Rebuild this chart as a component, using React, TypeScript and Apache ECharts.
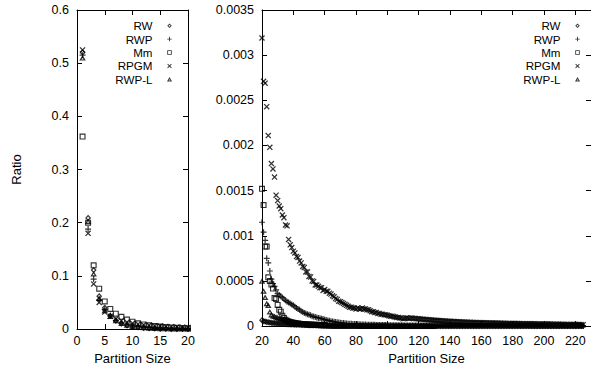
import React, { useEffect, useRef } from 'react';
import * as echarts from 'echarts';

const FONT = 'Liberation Sans, Arial, Helvetica, sans-serif';

const seriesNames = ['RW', 'RWP', 'Mm', 'RPGM', 'RWP-L'];

// Left panel: partition sizes 1..20
const leftSizes = [1, 2, 3, 4, 5, 6, 7, 8, 9, 10, 11, 12, 13, 14, 15, 16, 17, 18, 19, 20];
const leftRW = [0.52, 0.209, 0.111, 0.062, 0.04, 0.025, 0.016, 0.0105, 0.007, 0.0048, 0.0033, 0.0023, 0.0016, 0.0011, 0.0008, 0.0005, 0.00035, 0.00025, 0.00015, 0.000065];
const leftRWP = [0.515, 0.188, 0.094, 0.055, 0.037, 0.025, 0.016, 0.011, 0.0078, 0.0058, 0.0045, 0.0036, 0.003, 0.0025, 0.0021, 0.0018, 0.0015, 0.0013, 0.0012, 0.00115];
const leftMm = [0.362, 0.2, 0.12, 0.076, 0.052, 0.038, 0.029, 0.023, 0.018, 0.014, 0.011, 0.0088, 0.0071, 0.0058, 0.0047, 0.0038, 0.0031, 0.0025, 0.002, 0.0015];
const leftRPGM = [0.525, 0.18, 0.085, 0.05, 0.032, 0.024, 0.019, 0.016, 0.013, 0.011, 0.0095, 0.0082, 0.0072, 0.0063, 0.0056, 0.005, 0.0045, 0.004, 0.0036, 0.0032];
const leftRWPL = [0.51, 0.203, 0.104, 0.058, 0.035, 0.024, 0.016, 0.011, 0.0075, 0.0053, 0.0038, 0.0028, 0.0021, 0.0016, 0.0012, 0.001, 0.0008, 0.0007, 0.0006, 0.0005];

// Right panel: consecutive partition sizes starting at 20
const RIGHT_START = 20;
const rightRW = [
  65e-6, 55e-6, 50e-6, 46e-6, 43e-6, 40e-6, 37e-6, 35e-6, 33e-6, 31e-6,
  30e-6, 28e-6, 27e-6, 25e-6, 24e-6, 22e-6, 21e-6, 20e-6, 19e-6, 18e-6,
  17e-6, 16e-6, 15e-6, 14.5e-6, 14e-6, 13e-6, 12.5e-6, 12e-6, 11.5e-6, 11e-6,
  10e-6, 9.6e-6, 9.2e-6, 8.8e-6, 8.4e-6, 8e-6, 7.7e-6, 7.4e-6, 7.1e-6, 6.8e-6,
  6.5e-6, 6.2e-6, 6e-6, 5.8e-6, 5.6e-6, 5.4e-6, 5.2e-6, 5e-6, 4.9e-6, 4.8e-6,
  4.6e-6, 4.5e-6, 4.4e-6, 4.2e-6, 4.1e-6, 4e-6, 3.9e-6, 3.8e-6, 3.7e-6, 3.6e-6,
  3.5e-6, 3.4e-6, 3.4e-6, 3.3e-6, 3.2e-6, 3.2e-6, 3.1e-6, 3e-6, 3e-6, 2.9e-6,
  2.9e-6, 2.8e-6, 2.8e-6, 2.7e-6, 2.7e-6, 2.6e-6, 2.6e-6, 2.5e-6, 2.5e-6, 2.5e-6,
  2.4e-6, 2.4e-6, 2.3e-6, 2.3e-6, 2.3e-6, 2.2e-6, 2.2e-6, 2.2e-6, 2.1e-6, 2.1e-6,
  2.1e-6, 2e-6, 2e-6, 2e-6, 2e-6, 1.9e-6, 1.9e-6, 1.9e-6, 1.9e-6, 1.8e-6,
  1.8e-6, 1.8e-6, 1.8e-6, 1.7e-6, 1.7e-6, 1.7e-6, 1.7e-6, 1.7e-6, 1.6e-6, 1.6e-6,
  1.6e-6, 1.6e-6, 1.6e-6, 1.5e-6, 1.5e-6, 1.5e-6, 1.5e-6, 1.5e-6, 1.5e-6, 1.4e-6,
  1.4e-6, 1.4e-6, 1.4e-6, 1.4e-6, 1.4e-6, 1.3e-6, 1.3e-6, 1.3e-6, 1.3e-6, 1.3e-6,
  1.3e-6, 1.3e-6, 1.2e-6, 1.2e-6, 1.2e-6, 1.2e-6, 1.2e-6, 1.2e-6, 1.2e-6, 1.2e-6,
  1.1e-6, 1.1e-6, 1.1e-6, 1.1e-6, 1.1e-6, 1.1e-6, 1.1e-6, 1.1e-6, 1.1e-6, 1e-6,
  1e-6, 1e-6, 1e-6, 1e-6, 1e-6, 1e-6, 1e-6, 1e-6, 0.98e-6, 0.98e-6,
  0.97e-6, 0.96e-6, 0.95e-6, 0.95e-6, 0.94e-6, 0.93e-6, 0.93e-6, 0.92e-6, 0.91e-6, 0.91e-6,
  0.9e-6, 0.9e-6, 0.89e-6, 0.88e-6, 0.88e-6, 0.87e-6, 0.87e-6, 0.86e-6, 0.86e-6, 0.85e-6,
  0.85e-6, 0.84e-6, 0.84e-6, 0.83e-6, 0.83e-6, 0.82e-6, 0.82e-6, 0.81e-6, 0.81e-6, 0.8e-6,
  0.8e-6, 0.8e-6, 0.79e-6, 0.79e-6, 0.78e-6, 0.78e-6, 0.78e-6, 0.77e-6, 0.77e-6, 0.76e-6,
  0.76e-6, 0.76e-6, 0.75e-6, 0.75e-6, 0.75e-6, 0.74e-6,
];
const rightRWP = [
  1150e-6, 1040e-6, 950e-6, 750e-6, 700e-6, 610e-6, 520e-6, 470e-6, 440e-6, 400e-6,
  360e-6, 345e-6, 330e-6, 315e-6, 300e-6, 285e-6, 270e-6, 260e-6, 250e-6, 240e-6,
  230e-6, 215e-6, 200e-6, 190e-6, 180e-6, 165e-6, 155e-6, 145e-6, 140e-6, 130e-6,
  125e-6, 120e-6, 110e-6, 105e-6, 100e-6, 95e-6, 90e-6, 88e-6, 82e-6, 78e-6,
  72e-6, 68e-6, 63e-6, 60e-6, 55e-6, 52e-6, 48e-6, 45e-6, 42e-6, 40e-6,
  37e-6, 35e-6, 33e-6, 31e-6, 29e-6, 27e-6, 26e-6, 25e-6, 24e-6, 23e-6,
  22e-6, 21e-6, 20e-6, 19e-6, 18e-6, 18e-6, 17e-6, 16e-6, 16e-6, 15e-6,
  15e-6, 14e-6, 14e-6, 13e-6, 13e-6, 12e-6, 12e-6, 12e-6, 11e-6, 11e-6,
  11e-6, 10e-6, 10e-6, 10e-6, 9.5e-6, 9.5e-6, 9e-6, 9e-6, 9e-6, 8.5e-6,
  8.5e-6, 8e-6, 8e-6, 8e-6, 7.8e-6, 7.5e-6, 7.5e-6, 7.2e-6, 7e-6, 7e-6,
  6.8e-6, 6.7e-6, 6.5e-6, 6.4e-6, 6.2e-6, 6e-6, 6e-6, 5.8e-6, 5.7e-6, 5.6e-6,
  5.5e-6, 5.4e-6, 5.3e-6, 5.2e-6, 5.1e-6, 5e-6, 4.9e-6, 4.8e-6, 4.7e-6, 4.6e-6,
  4.5e-6, 4.5e-6, 4.4e-6, 4.3e-6, 4.3e-6, 4.2e-6, 4.1e-6, 4.1e-6, 4e-6, 4e-6,
  3.9e-6, 3.9e-6, 3.8e-6, 3.8e-6, 3.7e-6, 3.7e-6, 3.6e-6, 3.6e-6, 3.5e-6, 3.5e-6,
  3.4e-6, 3.4e-6, 3.4e-6, 3.3e-6, 3.3e-6, 3.2e-6, 3.2e-6, 3.2e-6, 3.1e-6, 3.1e-6,
  3.1e-6, 3e-6, 3e-6, 3e-6, 2.9e-6, 2.9e-6, 2.9e-6, 2.8e-6, 2.8e-6, 2.8e-6,
  2.8e-6, 2.7e-6, 2.7e-6, 2.7e-6, 2.6e-6, 2.6e-6, 2.6e-6, 2.6e-6, 2.5e-6, 2.5e-6,
  2.5e-6, 2.5e-6, 2.4e-6, 2.4e-6, 2.4e-6, 2.4e-6, 2.3e-6, 2.3e-6, 2.3e-6, 2.3e-6,
  2.2e-6, 2.2e-6, 2.2e-6, 2.2e-6, 2.2e-6, 2.1e-6, 2.1e-6, 2.1e-6, 2.1e-6, 2e-6,
  2e-6, 2e-6, 2e-6, 2e-6, 1.9e-6, 1.9e-6, 1.9e-6, 1.9e-6, 1.9e-6, 1.8e-6,
  1.8e-6, 1.8e-6, 1.8e-6, 1.8e-6, 1.7e-6, 1.7e-6,
];
const rightMm = [
  1520e-6, 1340e-6, 880e-6, 880e-6, 540e-6, 500e-6, 460e-6, 415e-6, 310e-6, 300e-6,
  235e-6, 180e-6, 160e-6, 115e-6, 90e-6, 70e-6, 60e-6, 50e-6, 45e-6, 40e-6,
  36e-6, 33e-6, 30e-6, 28e-6, 26e-6, 24e-6, 22e-6, 21e-6, 20e-6, 19e-6,
  18e-6, 17e-6, 16e-6, 15e-6, 15e-6, 14e-6, 13e-6, 13e-6, 12e-6, 12e-6, 11e-6,
];
const rightRPGM = [
  3190e-6, 2710e-6, 2690e-6, 2430e-6, 2110e-6, 1980e-6, 1800e-6, 1740e-6, 1650e-6, 1450e-6,
  1390e-6, 1330e-6, 1300e-6, 1230e-6, 1200e-6, 1120e-6, 1110e-6, 960e-6, 900e-6, 870e-6,
  830e-6, 810e-6, 770e-6, 760e-6, 720e-6, 700e-6, 660e-6, 650e-6, 600e-6, 600e-6,
  550e-6, 545e-6, 500e-6, 495e-6, 455e-6, 455e-6, 440e-6, 425e-6, 425e-6, 395e-6,
  405e-6, 385e-6, 385e-6, 365e-6, 355e-6, 335e-6, 325e-6, 305e-6, 295e-6, 275e-6,
  270e-6, 260e-6, 250e-6, 240e-6, 230e-6, 220e-6, 210e-6, 210e-6, 200e-6, 200e-6,
  190e-6, 200e-6, 190e-6, 190e-6, 200e-6, 190e-6, 190e-6, 180e-6, 180e-6, 170e-6,
  160e-6, 160e-6, 150e-6, 150e-6, 140e-6, 140e-6, 130e-6, 130e-6, 125e-6, 125e-6,
  120e-6, 115e-6, 110e-6, 110e-6, 105e-6, 100e-6, 95e-6, 95e-6, 90e-6, 90e-6,
  80e-6, 85e-6, 90e-6, 90e-6, 85e-6, 90e-6, 88e-6, 85e-6, 83e-6, 80e-6,
  80e-6, 78e-6, 77e-6, 75e-6, 74e-6, 72e-6, 70e-6, 70e-6, 68e-6, 66e-6,
  65e-6, 64e-6, 62e-6, 62e-6, 60e-6, 58e-6, 57e-6, 56e-6, 55e-6, 54e-6,
  53e-6, 52e-6, 50e-6, 50e-6, 49e-6, 48e-6, 47e-6, 46e-6, 45e-6, 45e-6,
  44e-6, 43e-6, 42e-6, 42e-6, 41e-6, 40e-6, 40e-6, 39e-6, 38e-6, 38e-6,
  37e-6, 37e-6, 36e-6, 36e-6, 35e-6, 35e-6, 34e-6, 34e-6, 34e-6, 33e-6,
  33e-6, 32e-6, 32e-6, 32e-6, 31e-6, 31e-6, 30e-6, 30e-6, 30e-6, 29e-6,
  29e-6, 29e-6, 28e-6, 28e-6, 28e-6, 27e-6, 27e-6, 27e-6, 26e-6, 26e-6,
  26e-6, 25e-6, 25e-6, 25e-6, 25e-6, 24e-6, 24e-6, 24e-6, 23e-6, 23e-6,
  23e-6, 23e-6, 22e-6, 22e-6, 22e-6, 21e-6, 21e-6, 21e-6, 21e-6, 20e-6,
  20e-6, 20e-6, 20e-6, 19e-6, 19e-6, 19e-6, 19e-6, 18e-6, 18e-6, 18e-6,
  18e-6, 17e-6, 17e-6, 17e-6, 16e-6, 16e-6,
];
const rightRWPL = [
  500e-6, 390e-6, 320e-6, 250e-6, 230e-6, 160e-6, 125e-6, 115e-6, 108e-6, 100e-6,
  95e-6, 90e-6, 85e-6, 80e-6, 75e-6, 70e-6, 65e-6, 60e-6, 55e-6, 50e-6,
  46e-6, 42e-6, 38e-6, 35e-6, 32e-6, 29e-6, 27e-6, 24e-6, 22e-6, 20e-6,
  18e-6, 16e-6, 14e-6, 12.5e-6, 11e-6, 10e-6, 9e-6, 8.2e-6, 7.5e-6, 7e-6,
  6.5e-6, 6e-6, 5.6e-6, 5.2e-6, 4.9e-6, 4.6e-6, 4.3e-6, 4.1e-6, 3.9e-6, 3.7e-6,
  3.6e-6, 3.4e-6, 3.3e-6, 3.2e-6, 3.1e-6, 3e-6, 2.9e-6, 2.8e-6, 2.7e-6, 2.6e-6,
  2.5e-6, 2.5e-6, 2.4e-6, 2.3e-6, 2.3e-6, 2.2e-6, 2.2e-6, 2.1e-6, 2.1e-6, 2e-6,
  2e-6, 1.9e-6, 1.9e-6, 1.9e-6, 1.8e-6, 1.8e-6, 1.8e-6, 1.7e-6, 1.7e-6, 1.7e-6,
  1.6e-6, 1.6e-6, 1.6e-6, 1.6e-6, 1.5e-6, 1.5e-6, 1.5e-6, 1.5e-6, 1.4e-6, 1.4e-6,
  1.4e-6, 1.4e-6, 1.4e-6, 1.3e-6, 1.3e-6, 1.3e-6, 1.3e-6, 1.3e-6, 1.2e-6, 1.2e-6,
  1.2e-6, 1.2e-6, 1.2e-6, 1.2e-6, 1.1e-6, 1.1e-6, 1.1e-6, 1.1e-6, 1.1e-6, 1.1e-6, 1e-6,
];

const leftYTicks = { min: 0, max: 0.6, interval: 0.1 };
const rightYTicks = { min: 0, max: 0.0035, interval: 0.0005 };
const leftXTicks = { min: 0, max: 20, interval: 5 };
const rightXTicks = { min: 20, max: 230, interval: 20 };

// gnuplot-like point shapes (hollow shapes drawn as filled outlines)
const SYMBOLS: Record<string, string> = {
  RW: 'path://M5,0L10,5L5,10L0,5ZM5,2.8L2.8,5L5,7.2L7.2,5Z',
  RWP: 'path://M4,0L6,0L6,4L10,4L10,6L6,6L6,10L4,10L4,6L0,6L0,4L4,4Z',
  Mm: 'path://M0,0L10,0L10,10L0,10ZM1.9,1.9L1.9,8.1L8.1,8.1L8.1,1.9Z',
  RPGM: 'path://M0,1.5L1.5,0L10,8.5L8.5,10ZM10,1.5L1.5,10L0,8.5L8.5,0Z',
  'RWP-L': 'path://M5,0L10,9L0,9ZM5,4.1L3.4,7L6.6,7Z',
};
const SIZES: Record<string, number | number[]> = {
  RW: [6, 6.5],
  RWP: 6,
  Mm: 6,
  RPGM: 6,
  'RWP-L': [6.5, 5.5],
};

const fmt = (v: number) => String(parseFloat(v.toFixed(6)));

export default function App() {
  const ref = useRef<HTMLDivElement>(null);

  useEffect(() => {
    document.body.style.margin = '0';
    if (!ref.current) return;
    const chart = echarts.init(ref.current, undefined, { renderer: 'svg' });

    const leftData: Record<string, number[]> = {
      RW: leftRW, RWP: leftRWP, Mm: leftMm, RPGM: leftRPGM, 'RWP-L': leftRWPL,
    };
    const rightData: Record<string, number[]> = {
      RW: rightRW, RWP: rightRWP, Mm: rightMm, RPGM: rightRPGM, 'RWP-L': rightRWPL,
    };

    const axisCommon = {
      type: 'value' as const,
      axisLine: { show: true, onZero: false, lineStyle: { color: '#000', width: 1 } },
      axisTick: { show: true, inside: true, length: 5, lineStyle: { color: '#000', width: 1 } },
      splitLine: { show: false },
    };
    const labelStyle = { color: '#000', fontSize: 12.5, fontFamily: FONT };
    const nameStyle = { color: '#000', fontSize: 13, fontFamily: FONT };

    const series: any[] = [];
    seriesNames.forEach((n) => {
      series.push({
        type: 'scatter',
        name: n,
        xAxisIndex: 0,
        yAxisIndex: 0,
        data: leftData[n].map((v, i) => [leftSizes[i], v]),
        symbol: SYMBOLS[n],
        symbolSize: SIZES[n],
        itemStyle: { color: '#000' },
        clip: false,
        silent: true,
      });
    });
    seriesNames.forEach((n) => {
      series.push({
        type: 'scatter',
        name: n,
        xAxisIndex: 2,
        yAxisIndex: 2,
        data: rightData[n].map((v, i) => [RIGHT_START + i, v]),
        symbol: SYMBOLS[n],
        symbolSize: SIZES[n],
        itemStyle: { color: '#000' },
        clip: false,
        silent: true,
      });
    });

    const legendBase = {
      data: seriesNames.map((n) => ({ name: n, icon: SYMBOLS[n] })),
      orient: 'vertical' as const,
      align: 'right' as const,
      top: 19,
      padding: 0,
      itemGap: 0,
      itemWidth: 24,
      itemHeight: 4.5,
      selectedMode: false,
      textStyle: { color: '#000', fontSize: 11.6, lineHeight: 13.4, fontFamily: FONT },
    };

    chart.setOption({
      animation: false,
      backgroundColor: '#fff',
      grid: [
        { left: 77, top: 10, width: 111, height: 322 },
        { left: 262, top: 10, width: 334, height: 323 },
      ],
      legend: [
        { ...legendBase, right: 419 },
        { ...legendBase, right: 11 },
      ],
      xAxis: [
        {
          ...axisCommon, ...leftXTicks, gridIndex: 0, position: 'bottom',
          axisLabel: { ...labelStyle, margin: 5 },
          name: 'Partition Size', nameLocation: 'middle', nameGap: 20, nameTextStyle: nameStyle,
        },
        { ...axisCommon, ...leftXTicks, gridIndex: 0, position: 'top', axisLabel: { show: false } },
        {
          ...axisCommon, ...rightXTicks, gridIndex: 1, position: 'bottom',
          axisLabel: { ...labelStyle, margin: 8, showMaxLabel: false },
          name: 'Partition Size', nameLocation: 'middle', nameGap: 19, nameTextStyle: nameStyle,
        },
        { ...axisCommon, ...rightXTicks, gridIndex: 1, position: 'top', axisLabel: { show: false } },
      ],
      yAxis: [
        {
          ...axisCommon, ...leftYTicks, gridIndex: 0, position: 'left',
          axisLabel: { ...labelStyle, margin: 8, formatter: fmt },
          name: 'Ratio', nameLocation: 'middle', nameGap: 54, nameTextStyle: nameStyle,
        },
        { ...axisCommon, ...leftYTicks, gridIndex: 0, position: 'right', axisLabel: { show: false } },
        {
          ...axisCommon, ...rightYTicks, gridIndex: 1, position: 'left',
          axisLabel: { ...labelStyle, margin: 8, formatter: fmt },
        },
        { ...axisCommon, ...rightYTicks, gridIndex: 1, position: 'right', axisLabel: { show: false } },
      ],
      series,
    });

    return () => {
      chart.dispose();
    };
  }, []);

  return <div ref={ref} style={{ width: 591, height: 370 }} />;
}
